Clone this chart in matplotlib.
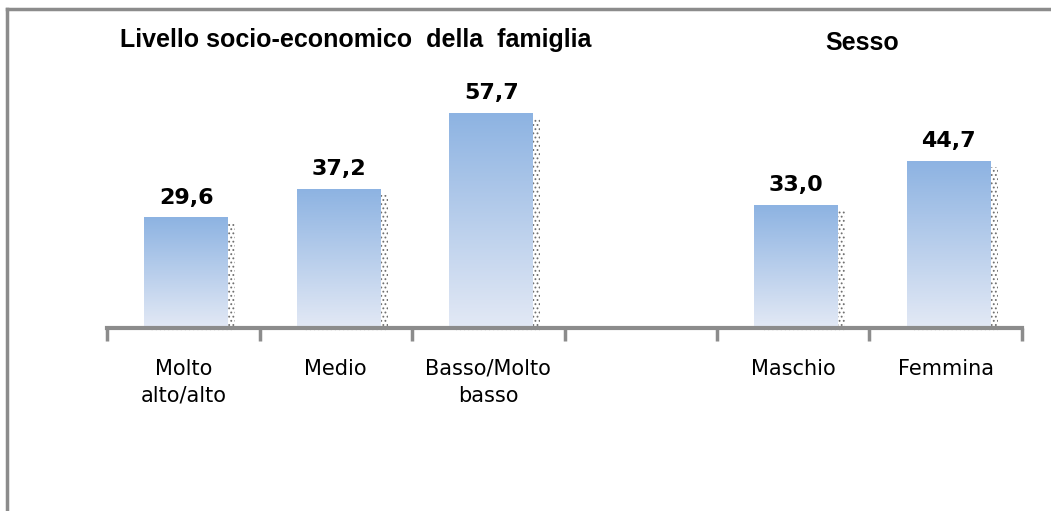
import numpy as np
import matplotlib.pyplot as plt
from matplotlib.colors import LinearSegmentedColormap
from matplotlib.lines import Line2D
from matplotlib.patches import Rectangle

# Data
categories = ['Molto\nalto/alto', 'Medio', 'Basso/Molto\nbasso', '', 'Maschio', 'Femmina']
values = [29.6, 37.2, 57.7, None, 33.0, 44.7]
labels = ['29,6', '37,2', '57,7', '', '33,0', '44,7']

plt.rcParams['hatch.linewidth'] = 0.8

W, H = 1051, 511
fig = plt.figure(figsize=(W / 100, H / 100), dpi=100)
fig.patch.set_facecolor('white')

ax = fig.add_axes([107 / W, (H - 328) / H, 915 / W, 298 / H])
ax.set_xlim(-0.5, 5.5)
ax.set_ylim(0, 80)

cmap = LinearSegmentedColormap.from_list('grad', ['#E3E9F5', '#8DB3E2'])
grad = np.linspace(0, 1, 256).reshape(-1, 1)
bw = 0.55
for i, v in enumerate(values):
    if v is None:
        continue
    x0 = i - bw / 2 + 0.02
    # dotted shadow
    ax.add_patch(Rectangle((x0 + 0.045, -1.0), bw, v - 0.5, facecolor='none',
                           edgecolor='#707070', hatch='....', linewidth=0,
                           zorder=1, clip_on=False))
    ax.add_patch(Rectangle((x0, 0), bw, v, facecolor='white', edgecolor='none', zorder=2))
    ax.imshow(grad, cmap=cmap, extent=[x0, x0 + bw, 0, v], origin='lower',
              aspect='auto', zorder=3, interpolation='bilinear')
    ax.text(i + 0.02, v + 3.8, labels[i], ha='center', va='baseline',
            fontsize=16, fontweight='bold', color='black')

ax.set_xlim(-0.5, 5.5)
ax.set_ylim(0, 80)
ax.set_aspect('auto')

for s in ['top', 'right', 'left']:
    ax.spines[s].set_visible(False)
ax.spines['bottom'].set_color('#8C8C8C')
ax.spines['bottom'].set_linewidth(3)
ax.spines['bottom'].set_zorder(5)
ax.set_yticks([])
ax.set_xticks(range(len(categories)))
ax.set_xticklabels(categories, fontsize=15, linespacing=1.45, va='top')
ax.tick_params(axis='x', which='major', length=0, pad=22)
ax.set_xticks(np.arange(-0.5, 6.0, 1.0), minor=True)
ax.tick_params(axis='x', which='minor', length=9, width=2.5, color='#8C8C8C', direction='out')

fig.text(356 / W, 1 - 40 / H, 'Livello socio-economico  della  famiglia', ha='center', va='center',
         fontsize=18, fontweight='bold', family='Liberation Sans')
fig.text(862 / W, 1 - 43 / H, 'Sesso', ha='center', va='center',
         fontsize=18, fontweight='bold', family='Liberation Sans')

# frame lines (top and left)
fig.add_artist(Line2D([7 / W, 1.0], [1 - 9 / H, 1 - 9 / H], color='#8C8C8C', linewidth=2.5))
fig.add_artist(Line2D([7 / W, 7 / W], [0, 1 - 9 / H], color='#8C8C8C', linewidth=2.5))

fig.savefig('out.png', dpi=100, facecolor='white')
